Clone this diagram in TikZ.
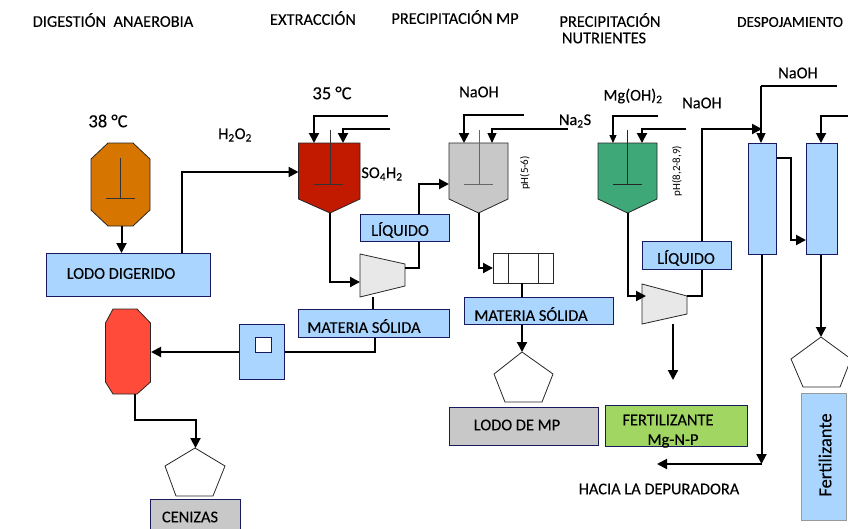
\documentclass[tikz,border=0pt]{standalone}
\usepackage{fontspec}
\setmainfont{Carlito}[FakeBold=0.15]
\newfontfamily\plainfont{Carlito}
\usetikzlibrary{arrows.meta,calc}
\definecolor{bluebox}{HTML}{A9D5FF}
\definecolor{greybox}{HTML}{C8C8C8}
\definecolor{orangetank}{HTML}{D67500}
\definecolor{redtank}{HTML}{C21A00}
\definecolor{greentank}{HTML}{3FA878}
\definecolor{redoct}{HTML}{FF4B3A}
\definecolor{limebox}{HTML}{A2D662}
\definecolor{sep}{HTML}{E8E8E8}
\tikzset{
  x=1pt,y=-1pt,
  txt/.style={inner sep=0pt,font=\fontsize{16.4}{18}\selectfont,text=black,align=center},
  bigtxt/.style={txt,font=\fontsize{18.5}{20}\selectfont},
  small/.style={inner sep=0pt,font=\plainfont\fontsize{11}{12}\selectfont,rotate=90},
  box/.style={draw=black!70!blue!90!white,line width=.9pt,inner sep=0pt,anchor=north west,fill=bluebox},
  shp/.style={draw=black!85,line width=.8pt},
  pipe/.style={draw=black,line width=2pt},
  thinpipe/.style={draw=black,line width=1.2pt},
  arr/.style={-{Triangle[length=10pt,width=10pt]}},
  sarr/.style={-{Triangle[length=10pt,width=9pt]}},
  stir/.style={draw=black!80,line width=1pt}
}
\newcommand{\mkbox}[6][bluebox]{% x1,y1,x2,y2,name
  \node[box,fill=#1,minimum width={(#4-#2)*1pt},minimum height={(#5-#3)*1pt}] (#6) at (#2,#3) {};}
\begin{document}
\begin{tikzpicture}
\useasboundingbox (0,0) rectangle (848,528);
\clip (0,0) rectangle (848,528);
% named ports
\coordinate (digout) at (121.5,226);
\coordinate (lodoin) at (121.5,253);
\coordinate (lodoout) at (182,253);
\coordinate (jA) at (182,172);
\coordinate (extin) at (298.5,172);
\coordinate (ext1s) at (388,116);\coordinate (ext1c) at (314,116);\coordinate (ext1e) at (314,143);
\coordinate (ext2s) at (390,129);\coordinate (ext2c) at (343,129);\coordinate (ext2e) at (343,143);
\coordinate (extout) at (330,213);\coordinate (cA) at (330,282);\coordinate (cenAin) at (360,282);
\coordinate (cenAout) at (405,268);\coordinate (cB) at (419,268);
\coordinate (cC) at (419,184);\coordinate (prein) at (449,184);
\coordinate (cenAsol) at (373,297);\coordinate (msAin) at (373,309);
\coordinate (msAout) at (375,337);\coordinate (cD) at (375,352);\coordinate (dryin) at (284,352);
\coordinate (dryout) at (239,352);\coordinate (octin) at (151,352);
\coordinate (octout) at (135,394);\coordinate (cE) at (135,420);\coordinate (cF) at (195.5,420);\coordinate (penAt) at (195.5,448);
\coordinate (pre1s) at (524,115);\coordinate (pre1c) at (464,115);\coordinate (pre1e) at (464,143);
\coordinate (pre2s) at (568,129);\coordinate (pre2c) at (492,129);\coordinate (pre2e) at (492,143);
\coordinate (preout) at (478.5,213);\coordinate (cG) at (478.5,268);\coordinate (filin) at (493,268);
\coordinate (filout) at (522,283);\coordinate (msBin) at (522,297);\coordinate (msBout) at (522,324);\coordinate (penBt) at (522,352);
\coordinate (nut1s) at (658,116);\coordinate (nut1c) at (613,116);\coordinate (nut1e) at (613,143);
\coordinate (nut2s) at (686,129);\coordinate (nut2c) at (642,129);\coordinate (nut2e) at (642,143);
\coordinate (nutout) at (627.5,213);\coordinate (cH) at (627.5,296);\coordinate (cenBin) at (646,296);
\coordinate (cenBout) at (687,296);\coordinate (cI) at (702,296);\coordinate (cJ) at (702,129);\coordinate (colin) at (762,129);
\coordinate (cenBsol) at (673,324);\coordinate (solend) at (673,380);
\coordinate (naS) at (837,86);\coordinate (naC) at (761,86);\coordinate (col1top) at (761,143);
\coordinate (c1a) at (776,158);\coordinate (c1b) at (791,158);\coordinate (c1c) at (791,240);\coordinate (col2in) at (806,240);
\coordinate (c2s) at (848,116);\coordinate (c2c) at (821,116);\coordinate (col2top) at (821,143);
\coordinate (col2bot) at (821,254);\coordinate (penCt) at (821,337);
\coordinate (col1bot) at (761.5,254);\coordinate (dep) at (761.5,464);\coordinate (depend) at (657,464);

% vessels
\draw[shp,fill=orangetank] (108,143)--(133,143)--(150,159)--(150,210)--(133,226)--(108,226)--(91,210)--(91,159)--cycle;
\draw[stir] (120.5,158)--(120.5,198) (106,198)--(135,198);
\draw[shp,fill=redtank] (298.5,143)--(360,143)--(360,199)--(330,213)--(298.5,199)--cycle;
\draw[stir] (330,130)--(330,184) (314,184)--(343,184);
\draw[shp,fill=greybox] (449,143)--(508,143)--(508,199)--(478.5,213)--(449,199)--cycle;
\draw[stir,draw=black!60] (479,130)--(479,184) (464,184)--(493,184);
\draw[shp,fill=greentank] (598,143)--(657,143)--(657,199)--(627.5,213)--(598,199)--cycle;
\draw[stir,draw=black!85] (627.5,130)--(627.5,184) (613,184)--(642,184);
\draw[shp,fill=redoct] (113,309)--(137,309)--(150.5,323)--(150.5,382)--(137,394)--(113,394)--(105.5,382)--(105.5,323)--cycle;
% centrifuges
\draw[shp,fill=sep] (360,254)--(405,264)--(405,286)--(360,297)--cycle;
\draw[shp,fill=sep] (642,284)--(687,296)--(687,314)--(642,324)--cycle;
% filter
\draw[shp,fill=white] (493,253) rectangle (553,283) (508,253)--(508,283) (538,253)--(538,283);
% pentagons
\draw[shp,fill=white] (195,448)--(225,466)--(213,496)--(176,496)--(165,466)--cycle;
\draw[shp,fill=white] (522,352)--(553,374)--(542,402)--(505,402)--(494,374)--cycle;
\draw[shp,fill=white] (821,337)--(851,359)--(840,387)--(803,387)--(791,359)--cycle;

% connectors
\draw[pipe,arr] (digout)--(lodoin);
\draw[pipe,arr] (lodoout)--(jA)--(extin);
\draw[pipe,arr] (ext1s)--(ext1c)--(ext1e);
\draw[pipe,arr] (ext2s)--(ext2c)--(ext2e);
\draw[pipe,arr] (extout)--(cA)--(cenAin);
\draw[pipe,arr] (cenAout)--(cB)--(cC)--(prein);
\draw[thinpipe] (cenAsol)--(msAin);
\draw[pipe] (msAout)--(cD)--(dryin);
\draw[pipe,arr] (dryout)--(octin);
\draw[pipe,arr] (octout)--(cE)--(cF)--(penAt);
\draw[pipe,arr] (pre1s)--(pre1c)--(pre1e);
\draw[thinpipe,sarr] (pre2s)--(pre2c)--(pre2e);
\draw[pipe,arr] (preout)--(cG)--(filin);
\draw[pipe] (filout)--(msBin);
\draw[pipe,arr] (msBout)--(penBt);
\draw[thinpipe,-{Triangle[length=8pt,width=7pt]}] (nut1s)--(nut1c)--(nut1e);
\draw[pipe,arr] (nut2s)--(nut2c)--(nut2e);
\draw[pipe,arr] (nutout)--(cH)--(cenBin);
\draw[pipe,arr] (cenBout)--(cI)--(cJ)--(colin);
\draw[pipe,arr] (cenBsol)--(solend);
\draw[thinpipe] (naS)--(naC);
\draw[thinpipe,sarr] (naC)--(col1top);
\draw[pipe,arr] (c1a)--(c1b)--(c1c)--(col2in);
\draw[pipe,arr] (c2s)--(c2c)--(col2top);
\draw[pipe,arr] (col2bot)--(penCt);
\draw[pipe,arr] (col1bot)--(dep);
\draw[pipe,arr] (dep)--(depend);

% boxes
\mkbox{46}{253}{210}{296}{blodo}
\mkbox{360}{214}{449}{241}{bliqA}
\mkbox{298}{309}{449}{337}{bmatA}
\mkbox{464}{297}{613}{324}{bmatB}
\mkbox{642}{241}{731}{269}{bliqB}
\mkbox{239}{324}{284}{379}{bdry}
\mkbox{748}{143}{776}{254}{bcolA}
\mkbox{806}{143}{837}{254}{bcolB}
\node[box,draw=black!40,minimum width=45pt,minimum height=127pt] (bfert) at (801,393) {};
\mkbox[greybox]{150}{499}{240}{540}{bcen}
\mkbox[greybox]{449}{407}{598}{445}{blmp}
\mkbox[limebox]{605}{405}{747}{446}{bfm}
\node[box,fill=white,minimum width=16pt,minimum height=15pt] (bsq) at (255,337) {};

% texts
\node[txt] (t1) at (113,20) {DIGESTIÓN\ \ ANAEROBIA};
\node[txt] (t2) at (313,18) {EXTRACCIÓN};
\node[txt] (t3) at (455,17) {PRECIPITACIÓN MP};
\node[txt] (t4) at (610,20) {PRECIPITACIÓN};
\node[txt] (t5) at (604,38) {NUTRIENTES};
\node[txt,anchor=west,font=\fontsize{15.2}{17}\selectfont] (t6) at (737,22) {DESPOJAMIENTO};
\node[bigtxt] (l1) at (108,121) {38 °C};
\node[bigtxt] (l2) at (332,93) {35 °C};
\node[txt] (l3) at (235,135) {H\textsubscript{2}O\textsubscript{2}};
\node[txt] (l4) at (382,174) {SO\textsubscript{4}H\textsubscript{2}};
\node[txt] (l5) at (479,92) {NaOH};
\node[txt] (l6) at (575,121) {Na\textsubscript{2}S};
\node[txt] (l7) at (633,96) {Mg(OH)\textsubscript{2}};
\node[txt] (l8) at (702,103) {NaOH};
\node[txt] (l9) at (798,73) {NaOH};
\node[small] (p1) at (525,173) {pH(5-6)};
\node[small] (p2) at (677,171) {pH(8,2-8,9)};
\node[txt] (n1) at (121,273.5) {LODO DIGERIDO};
\node[txt] (n2) at (400,230) {LÍQUIDO};
\node[txt] (n3) at (364,326) {MATERIA SÓLIDA};
\node[txt] (n4) at (531,314) {MATERIA SÓLIDA};
\node[txt] (n5) at (686,258) {LÍQUIDO};
\node[txt] (n6) at (190,517) {CENIZAS};
\node[txt] (n7) at (517,425) {LODO DE MP};
\node[txt] (n8) at (668,420) {FERTILIZANTE};
\node[txt] (n9) at (673,441) {Mg-N-P};
\node[txt] (n10) at (659,489) {HACIA LA DEPURADORA};
\node[bigtxt,rotate=90] (n11) at (825,455) {Fertilizante};
\end{tikzpicture}
\end{document}
